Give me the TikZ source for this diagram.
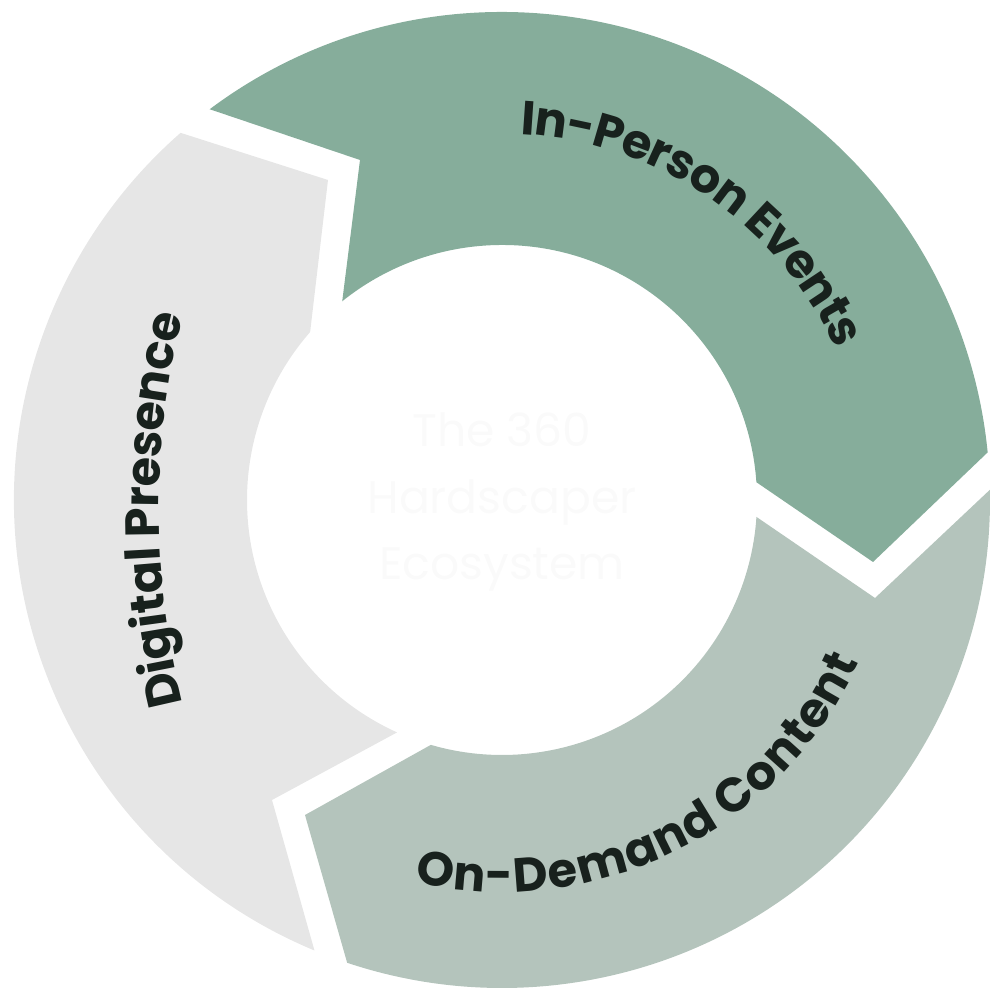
\documentclass[tikz,border=0pt]{standalone}
\usepackage{fontspec}
\usetikzlibrary{decorations.text}
\newfontfamily\ringfont{Poppins}
\newcommand\ringlabel{\ringfont\bfseries\fontsize{13.6pt}{16pt}\selectfont}
\definecolor{eventgreen}{HTML}{86AD9B}
\definecolor{demandsage}{HTML}{B4C4BC}
\definecolor{digitalgrey}{HTML}{E6E6E6}
\definecolor{labelink}{HTML}{18211D}
\definecolor{hubwhite}{HTML}{FAFAFA}
\begin{document}
\begin{tikzpicture}[
  ringtext/.style={decorate, decoration={text along path, text align=center,
    raise=-1.4mm, text color=labelink, text={|\ringlabel|#1}}}]
  \useasboundingbox (-5.02,-5.00) rectangle (4.98,5.00);
  \foreach \col/\ta/\ha/\hb/\tb/\tx/\ty/\nx/\ny in {
    eventgreen/126.8/5.6/4.0/128.8/3.71/-0.62/-1.42/3.40,
    demandsage/1.2/-108.5/-106.2/-3.8/-1.97/-3.15/3.73/-0.98,
    digitalgrey/-112.6/-228.8/138.8/245.7/-1.74/3.20/-2.30/-3.00}
  \fill[\col] (\ta:4.88) arc[start angle=\ta, end angle=\ha, radius=4.88]
    -- (\tx,\ty) -- (\hb:2.55) arc[start angle=\hb, end angle=\tb, radius=2.55]
    -- (\nx,\ny) -- cycle;
  \path[ringtext={In-Person Events}] (100:3.8) arc[start angle=100, end angle=11.4, radius=3.8];
  \path[ringtext={On-Demand Content}] (-110:3.78) arc[start angle=-110, end angle=-17.4, radius=3.78];
  \path[ringtext={Digital Presence}] (4.53,-0.10) ++(195:8.1) arc[start angle=195, end angle=165, radius=8.1];
  \node (hub) at (0, -0.02) [align=center, text=hubwhite,
    font=\ringfont\fontsize{13pt}{19pt}\selectfont] {The 360\\Hardscaper\\Ecosystem};
\end{tikzpicture}
\end{document}
